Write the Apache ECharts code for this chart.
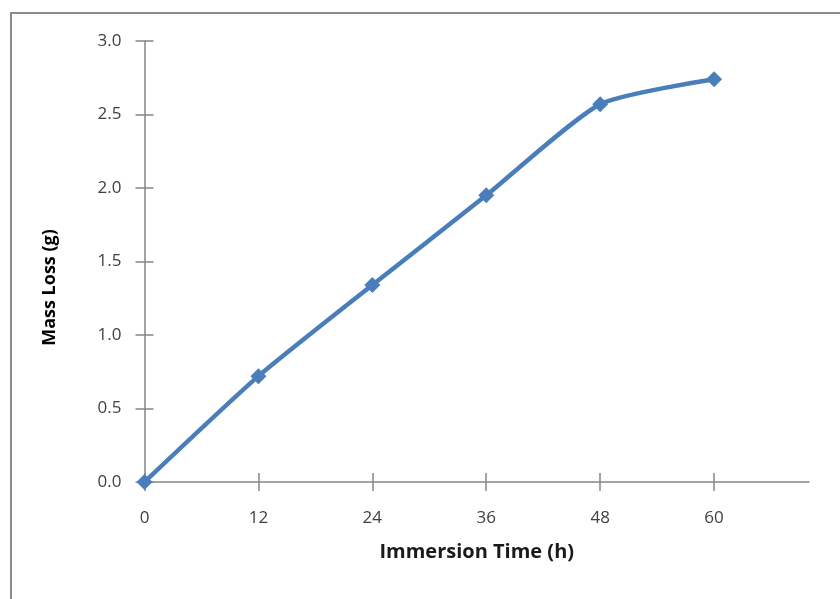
<!DOCTYPE html>
<html>
<head>
<meta charset="utf-8">
<script src="https://cdn.jsdelivr.net/npm/echarts@6/dist/echarts.min.js"></script>
<style>
  html, body { margin: 0; padding: 0; background: #fff; }
  #chart { width: 840px; height: 599px; }
</style>
</head>
<body>
<div id="chart"></div>
<script>
// Mass loss over immersion time
const hours = [0, 12, 24, 36, 48, 60];
const massLoss = [0, 0.72, 1.34, 1.95, 2.57, 2.74];
const xTicks = [0, 12, 24, 36, 48, 60];
const yTicks = [0, 0.5, 1.0, 1.5, 2.0, 2.5, 3.0];

const axisGray = '#868686';
const labelColor = '#404040';
const fontFamily = '"Open Sans", "DejaVu Sans", sans-serif';

const chart = echarts.init(document.getElementById('chart'), null, { renderer: 'canvas' });

// Base axis settings; a second, line-less copy of each axis draws the inner half of the crossing ticks
function xAxisBase(inside) {
  return {
    type: 'value', min: 0, max: 70, interval: 12, position: 'bottom',
    splitLine: { show: false },
    axisLine: { show: !inside, lineStyle: { color: axisGray, width: 1.5 } },
    axisTick: { show: true, inside: inside, length: 9, customValues: xTicks, lineStyle: { color: axisGray, width: 1.5 } },
    axisLabel: inside ? { show: false } : {
      show: true, customValues: xTicks, margin: 28, color: labelColor,
      fontSize: 17, fontFamily: fontFamily
    }
  };
}
function yAxisBase(inside) {
  return {
    type: 'value', min: 0, max: 3, interval: 0.5, position: 'left',
    splitLine: { show: false },
    axisLine: { show: !inside, lineStyle: { color: axisGray, width: 1.5 } },
    axisTick: { show: true, inside: inside, length: 9, customValues: yTicks, lineStyle: { color: axisGray, width: 1.5 } },
    axisLabel: inside ? { show: false } : {
      show: true, customValues: yTicks, margin: 23, color: labelColor,
      fontSize: 17, fontFamily: fontFamily,
      formatter: v => v.toFixed(1)
    }
  };
}

const xMain = Object.assign(xAxisBase(false), {
  name: 'Immersion Time (h)', nameLocation: 'middle', nameGap: 60,
  nameTextStyle: { color: '#1a1a1a', fontSize: 20, fontWeight: 'bold', fontFamily: fontFamily }
});
const yMain = Object.assign(yAxisBase(false), {
  name: 'Mass Loss (g)', nameLocation: 'middle', nameGap: 86,
  nameTextStyle: { color: '#000', fontSize: 18, fontWeight: 'bold', fontFamily: fontFamily,
                   padding: [0, 0, 0, -52] }
});

chart.setOption({
  animation: false,
  backgroundColor: '#fff',
  grid: { left: 144.5, top: 41, right: 31, bottom: 117, containLabel: false },
  xAxis: [xMain, xAxisBase(true)],
  yAxis: [yMain, yAxisBase(true)],
  graphic: [{
    type: 'rect', silent: true, z: -10,
    shape: { x: 11, y: 13, width: 900, height: 700 },
    style: { fill: 'none', stroke: '#8c8c8c', lineWidth: 2 }
  }],
  series: [{
    type: 'line',
    xAxisIndex: 0, yAxisIndex: 0,
    data: hours.map((h, i) => [h, massLoss[i]]),
    smooth: 0.2,
    symbol: 'diamond',
    symbolSize: 16,
    lineStyle: { color: '#4a7ebb', width: 4.5 },
    itemStyle: { color: '#4a7ebb' }
  }]
});
</script>
</body>
</html>
